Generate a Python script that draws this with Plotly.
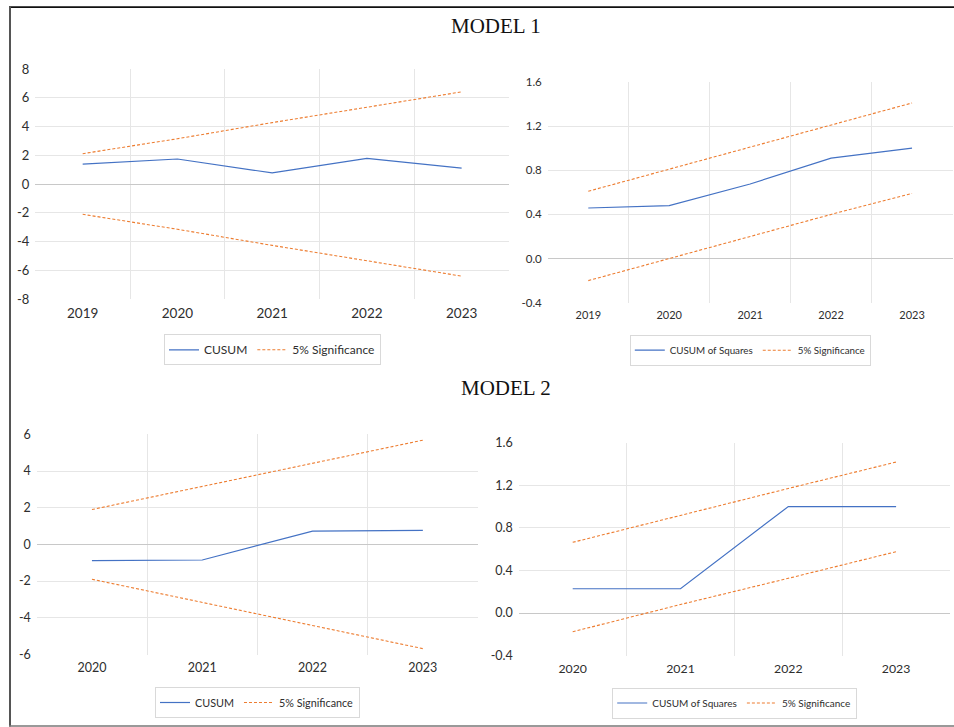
import plotly.graph_objects as go

W, H = 954, 727

# ---- data ----
years_m1 = ["2019", "2020", "2021", "2022", "2023"]
cusum_m1 = [1.38, 1.74, 0.77, 1.78, 1.11]
cusum_m1_upper = [2.11, 3.15, 4.27, 5.35, 6.41]
cusum_m1_lower = [-2.11, -3.15, -4.27, -5.35, -6.41]

cusumsq_m1 = [0.458, 0.48, 0.676, 0.91, 1.0]
cusumsq_m1_upper = [0.61, 0.81, 1.01, 1.21, 1.41]
cusumsq_m1_lower = [-0.2, 0.0, 0.2, 0.4, 0.59]

years_m2 = ["2020", "2021", "2022", "2023"]
cusum_m2 = [-0.88, -0.85, 0.72, 0.76]
cusum_m2_upper = [1.9, 3.16, 4.42, 5.68]
cusum_m2_lower = [-1.9, -3.16, -4.42, -5.68]

cusumsq_m2 = [0.228, 0.228, 1.0, 1.0]
cusumsq_m2_upper = [0.664, 0.92, 1.17, 1.418]
cusumsq_m2_lower = [-0.176, 0.08, 0.326, 0.576]

# y-axis tick labels
cusum_m1_ticks = [-8, -6, -4, -2, 0, 2, 4, 6, 8]
cusum_m2_ticks = [-6, -4, -2, 0, 2, 4, 6]
cusumsq_ticks = [-0.4, 0.0, 0.4, 0.8, 1.2, 1.6]
cusum_m1_ticktext = ["-8", "-6", "-4", "-2", "0", "2", "4", "6", "8"]
cusum_m2_ticktext = ["-6", "-4", "-2", "0", "2", "4", "6"]
cusumsq_ticktext = ["-0.4", "0.0", "0.4", "0.8", "1.2", "1.6"]

BLUE = "#4472C4"
ORANGE = "#ED7D31"
GRID = "#e6e6e6"
ZERO = "#c8c8c8"
TXT = "#2e2e2e"
FONT = "Lato"


def px_x(a, b):
    return [a / W, b / W]


def px_y(top, bottom):
    return [1 - bottom / H, 1 - top / H]


fig = go.Figure()

panels = [
    ("", years_m1, cusum_m1, cusum_m1_upper, cusum_m1_lower, "CUSUM", "legend",
     px_x(35.3, 509), px_y(69, 299), [-8, 8], cusum_m1_ticks, cusum_m1_ticktext,
     13.5, 13, 12, (272.5, 349.8)),
    ("2", years_m1, cusumsq_m1, cusumsq_m1_upper, cusumsq_m1_lower, "CUSUM of Squares", "legend2",
     px_x(547.8, 952.5), px_y(82, 302.7), [-0.4, 1.6], cusumsq_ticks, cusumsq_ticktext,
     11, 11.5, 9.8, (750.3, 350.2)),
    ("3", years_m2, cusum_m2, cusum_m2_upper, cusum_m2_lower, "CUSUM", "legend3",
     px_x(36.8, 478), px_y(434.3, 654.5), [-6, 6], cusum_m2_ticks, cusum_m2_ticktext,
     12.5, 12.5, 10.8, (257.5, 702.5)),
    ("4", years_m2, cusumsq_m2, cusumsq_m2_upper, cusumsq_m2_lower, "CUSUM of Squares", "legend4",
     px_x(518.8, 950), px_y(442.7, 655.6), [-0.4, 1.6], cusumsq_ticks, cusumsq_ticktext,
     12.3, 12.5, 10, (734.7, 703)),
]

layout = dict(
    width=W, height=H,
    margin=dict(l=0, r=0, t=0, b=0, autoexpand=False),
    paper_bgcolor="white", plot_bgcolor="white",
    showlegend=True,
    font=dict(family=FONT, color=TXT),
)

for (sfx, yrs, main, up, lo, name, leg, xd, yd, yr, tv, tt, xfs, yfs, lfs, lpos) in panels:
    xa, ya = "x" + sfx, "y" + sfx
    fig.add_trace(go.Scatter(x=yrs, y=main, name=name, mode="lines",
                             line=dict(color=BLUE, width=1.2),
                             xaxis=xa, yaxis=ya, legend=leg))
    fig.add_trace(go.Scatter(x=yrs, y=up, name="5% Significance", mode="lines",
                             line=dict(color=ORANGE, width=1.1, dash="3px,2px"),
                             xaxis=xa, yaxis=ya, legend=leg, legendgroup="sig" + sfx))
    fig.add_trace(go.Scatter(x=yrs, y=lo, name="5% Significance", mode="lines",
                             line=dict(color=ORANGE, width=1.1, dash="3px,2px"),
                             xaxis=xa, yaxis=ya, legend=leg, legendgroup="sig" + sfx,
                             showlegend=False))
    layout["xaxis" + sfx] = dict(
        domain=xd, anchor=ya, type="category", range=[-0.5, len(yrs) - 0.5],
        tickson="boundaries", ticks="", showgrid=True, gridcolor=GRID, gridwidth=1,
        showline=False, zeroline=False, automargin=False,
        tickfont=dict(family=FONT, size=xfs, color=TXT), ticklabelstandoff=4,
    )
    layout["yaxis" + sfx] = dict(
        domain=yd, anchor=xa, range=yr, tickmode="array", tickvals=tv, ticktext=tt,
        showgrid=True, gridcolor=GRID, gridwidth=1,
        zeroline=True, zerolinecolor=ZERO, zerolinewidth=1.3,
        showline=False, ticks="", automargin=False,
        tickfont=dict(family=FONT, size=yfs, color=TXT), ticklabelstandoff=5,
    )
    layout[leg] = dict(
        orientation="h", xref="paper", yref="paper",
        x=lpos[0] / W, y=1 - lpos[1] / H, xanchor="center", yanchor="middle",
        bordercolor="#d9d9d9", borderwidth=1, bgcolor="white",
        font=dict(family=FONT, size=lfs, color=TXT),
        itemclick=False, itemdoubleclick=False,
    )

fig.update_layout(**layout)

# section headings
for text, cx, cy in [("MODEL 1", 496, 26), ("MODEL 2", 506, 388)]:
    fig.add_annotation(text=text, x=cx / W, y=1 - cy / H, xref="paper", yref="paper",
                       showarrow=False, xanchor="center", yanchor="middle",
                       font=dict(family="Liberation Serif", size=21, color="#111111"))

# frame around the figure
fig.add_shape(type="line", xref="paper", yref="paper",
              x0=9 / W, x1=1, y0=1 - 7.2 / H, y1=1 - 7.2 / H,
              line=dict(color="#111111", width=1.7))
fig.add_shape(type="line", xref="paper", yref="paper",
              x0=10 / W, x1=10 / W, y0=1 - 726.5 / H, y1=1 - 6.5 / H,
              line=dict(color="#555555", width=2))
fig.add_shape(type="line", xref="paper", yref="paper",
              x0=9 / W, x1=1, y0=1 - 726 / H, y1=1 - 726 / H,
              line=dict(color="#777777", width=1.3))

fig.write_html("out.html")
